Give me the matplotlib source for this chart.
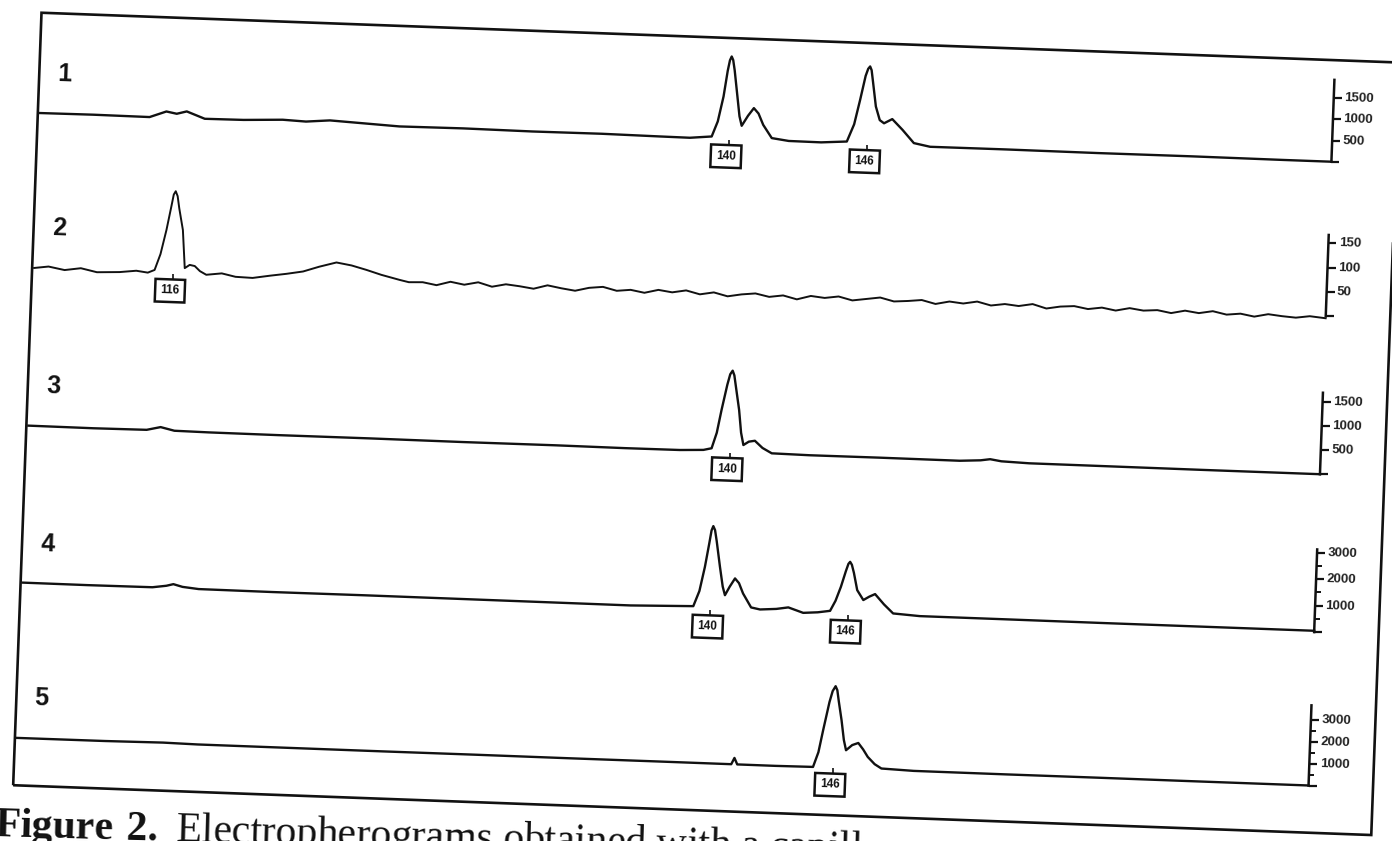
import matplotlib
matplotlib.use("Agg")
import matplotlib.pyplot as plt
from matplotlib.transforms import Affine2D
from matplotlib.patches import Rectangle

plt.rcParams['font.family'] = ['Liberation Sans', 'DejaVu Sans']
plt.rcParams['mathtext.fontset'] = 'custom'
plt.rcParams['mathtext.rm'] = 'Liberation Serif'
plt.rcParams['mathtext.bf'] = 'Liberation Serif:bold'

# traces: x = fragment size (bp), y = signal (RFU)
p1_x = [110.17, 112.5, 114.93, 115.65, 116.1, 116.53, 117.32, 119.0, 120.69, 121.7, 122.73, 125.75, 128.5,
        131.5, 134.5, 137.0, 138.32, 139.26, 139.5, 139.71, 139.85, 139.93, 140.0, 140.07, 140.15, 140.31,
        140.43, 140.54, 140.8, 141.04, 141.25, 141.47, 141.86, 142.6, 144.0, 145.11, 145.4, 145.62, 145.82,
        145.92, 146.0, 146.07, 146.15, 146.31, 146.5, 146.69, 147.04, 147.5, 148.01, 148.72, 152.0, 156.0,
        160.0, 164.0, 166.09]
p1_y = [31, 38, 31, 177, 132, 196, 38, 45, 83, 60, 108, 26, 35, 22, 28, 15, 10, 59, 420, 1012, 1620, 1870,
        1962, 1880, 1640, 1023, 560, 337, 580, 764, 640, 377, 73, 20, 15, 57, 470, 1052, 1620, 1790, 1847,
        1760, 1480, 908, 590, 519, 625, 380, 78, 5, 8, 2, 6, 0, 0]

p2_x = [110.18, 110.8, 111.5, 112.2, 112.9, 113.88, 114.6, 115.1, 115.39, 115.62, 115.84, 116.02, 116.1,
        116.18, 116.27, 116.36, 116.55, 116.69, 116.9, 117.12, 117.35, 117.63, 118.3, 118.9, 119.64, 120.4,
        121.1, 121.81, 122.5, 123.24, 123.9, 124.55, 125.2, 126.0, 126.4,
        127.0, 127.6, 128.2, 128.8, 129.4, 130.0, 130.6, 131.2, 131.8, 132.4, 133.0, 133.6, 134.2, 134.8,
        135.4, 136.0, 136.6, 137.2, 137.8, 138.4, 139.0, 139.6, 140.2, 140.8, 141.4, 142.0, 142.6, 143.2,
        143.8, 144.4, 145.0, 145.6, 146.2, 146.8, 147.4, 148.0, 148.6, 149.2, 149.8, 150.4, 151.0, 151.6,
        152.2, 152.8, 153.4, 154.0, 154.6, 155.2, 155.8, 156.4, 157.0, 157.6, 158.2, 158.8, 159.4, 160.0,
        160.6, 161.2, 161.8, 162.4, 163.0, 163.6, 164.2, 164.8, 165.4, 166.09]
p2_y = [2, 6, 0, 5, -2, 0, 4, 1, 7, 40, 90, 140, 163, 170, 160, 135, 91, 13, 20, 18, 8, 1, 5, -1, -2, 4, 9,
        15, 26, 36, 31, 23, 14, 5, 1,
        2, -3, 5, 0, 6, -2, 4, 1, -3, 5, 0, -4, 3, 6, -1, 2, -3, 4, 0, 5, -2, 3, -4, 1, 4, -2, 2, -5, 3, 0,
        4, -3, 1, 5, -2, 0, 3, -4, 2, -1, 4, -3, 1, -2, 3, -5, 0, 2, -3, 1, -4, 2, -2, 0, -5, 1, -3, 2, -4,
        -1, -6, 0, -3, -5, -1, -4]

p3_x = [110.18, 113.0, 115.3, 115.9, 116.5, 118.0, 121.0, 125.0, 129.0, 133.0, 136.0, 138.38, 139.4, 139.75,
        139.95, 140.12, 140.33, 140.44, 140.54, 140.62, 140.7, 140.88, 141.0, 141.12, 141.35, 141.61, 141.95,
        142.36, 144.0, 147.0, 150.5, 151.4, 151.81, 152.3, 153.5, 157.0, 161.0, 166.09]
p3_y = [25, 20, 28, 95, 30, 22, 18, 20, 15, 18, 12, 15, 35, 75, 400, 874, 1400, 1620, 1696, 1600, 1380, 888,
        420, 166, 240, 263, 120, 16, 5, 8, 5, 30, 60, 25, 5, 3, 0, 0]

p4_x = [110.18, 113.0, 115.8, 116.4, 116.7, 117.1, 117.8, 121.0, 125.0, 129.0, 133.0, 136.5, 139.21, 139.45,
        139.65, 139.8, 139.88, 139.95, 140.03, 140.12, 140.3, 140.45, 140.56, 140.75, 140.97, 141.15, 141.34,
        141.71, 142.1, 142.8, 143.32, 143.97, 144.6, 145.13, 145.35, 145.56, 145.75, 145.85, 145.92, 146.0,
        146.1, 146.27, 146.55, 146.8, 147.05, 147.45, 147.86, 149.02, 153.0, 157.0, 161.0, 166.09]
p4_y = [80, 75, 85, 160, 230, 140, 80, 70, 75, 70, 65, 60, 120, 700, 1619, 2500, 3000, 3166, 3020, 2600, 1641,
        900, 577, 900, 1223, 1050, 668, 151, 87, 130, 204, 19, 60, 132, 520, 1053, 1650, 1930, 2008, 1900,
        1600, 951, 585, 720, 826, 450, 121, 57, 55, 50, 50, 50]

p5_x = [110.18, 114.0, 116.5, 118.0, 122.0, 126.0, 130.0, 134.0, 138.0, 141.1, 141.23, 141.36, 143.0, 144.64,
        144.85, 145.02, 145.25, 145.37, 145.49, 145.57, 145.65, 145.8, 145.93, 146.04, 146.3, 146.56, 146.78,
        146.99, 147.3, 147.6, 149.0, 153.0, 157.0, 161.0, 166.09]
p5_y = [15, 20, 45, 18, 15, 12, 15, 10, 12, 10, 300, 10, 8, 23, 700, 1709, 3000, 3500, 3727, 3550, 3050, 2191,
        1300, 836, 1080, 1186, 900, 568, 250, 64, 10, 5, 8, 5, 5]

# called alleles (peak position, label)
p1_peaks = [(140.0, "140"), (146.0, "146")]
p2_peaks = [(116.18, "116")]
p3_peaks = [(140.54, "140")]
p4_peaks = [(139.95, "140"), (145.92, "146")]
p5_peaks = [(145.49, "146")]

# right-hand scales
p1_ticks, p1_minor, p1_top = [1500, 1000, 500], [], 1932
p2_ticks, p2_minor, p2_top = [150, 100, 50], [], 167
p3_ticks, p3_minor, p3_top = [1500, 1000, 500], [], 1687
p4_ticks, p4_minor, p4_top = [3000, 2000, 1000], [2500, 1500, 500], 3121
p5_ticks, p5_minor, p5_top = [3000, 2000, 1000], [2500, 1500, 500], 3650

caption = r"$\mathbf{Figure\ 2.}$ Electropherograms obtained with a capill"

W, H = 1392, 841
TILT = -2.1
XMIN, XMAX = 110.18, 166.09
INK = '#111111'

fig = plt.figure(figsize=(W / 100, H / 100), dpi=100)
fig.patch.set_facecolor('white')
rot = Affine2D().rotate_deg_around(W / 2, H / 2, TILT)

# (label, x, y, peaks, ticks, minor, ytop, zero line px, top px) - px from top of page
panels = [
    ("1", p1_x, p1_y, p1_peaks, p1_ticks, p1_minor, p1_top, 138.6, 56.7),
    ("2", p2_x, p2_y, p2_peaks, p2_ticks, p2_minor, p2_top, 293.3, 211.9),
    ("3", p3_x, p3_y, p3_peaks, p3_ticks, p3_minor, p3_top, 451.3, 369.8),
    ("4", p4_x, p4_y, p4_peaks, p4_ticks, p4_minor, p4_top, 609.3, 526.6),
    ("5", p5_x, p5_y, p5_peaks, p5_ticks, p5_minor, p5_top, 762.9, 682.6),
]

for num, xs, ys, peaks, ticks, minor, ytop, v0, vtop in panels:
    ax = fig.add_axes([29 / W, 1 - v0 / H, (1321.5 - 29) / W, (v0 - vtop) / H])
    ax.set_xlim(XMIN, XMAX)
    ax.set_ylim(0, ytop)
    ax.set_axis_off()
    T = ax.transData + rot
    lw = 1.4 if num == "2" else 1.7
    ax.plot(xs, ys, color=INK, lw=lw, transform=T, clip_on=False, solid_joinstyle='round')
    # right scale
    ax.plot([XMAX, XMAX], [0, ytop], color=INK, lw=1.8, transform=T, clip_on=False)
    ax.plot([XMAX] * (len(ticks) + 1), [0] + ticks, ls='none', marker=1, ms=6, mew=1.6,
            color=INK, transform=T, clip_on=False)
    if minor:
        ax.plot([XMAX] * len(minor), minor, ls='none', marker=1, ms=3.5, mew=1.4,
                color=INK, transform=T, clip_on=False)
    for t in ticks:
        ax.annotate(str(t), xy=(XMAX, t), xycoords=T, xytext=(7.5, 0), textcoords='offset points',
                    ha='left', va='center', fontsize=9.5, fontweight='bold', color='#222222',
                    rotation=TILT, rotation_mode='anchor')
    # allele call boxes
    for px, lab in peaks:
        ax.plot([px], [0], ls='none', marker=3, ms=4, mew=1.2, color=INK, transform=T, clip_on=False)
        ax.annotate(lab, xy=(px, 0), xycoords=T, xytext=(-2, -12), textcoords='offset points',
                    ha='center', va='center', fontsize=8.5, fontweight='bold', color=INK,
                    rotation=TILT, rotation_mode='anchor',
                    bbox=dict(boxstyle='square,pad=0.45', fc='white', ec=INK, lw=1.8))
    # lane number
    ax.annotate(num, xy=(XMIN, 0), xycoords=T, xytext=(18, 29), textcoords='offset points',
                ha='center', va='center', fontsize=18, fontweight='bold', color=INK,
                rotation=TILT, rotation_mode='anchor')

# page frame and caption
fig.add_artist(Rectangle((27 / W, 1 - 810 / H), (1386 - 27) / W, (810 - 37) / H, fill=False,
                         ec=INK, lw=1.9, transform=fig.transFigure + rot))
fig.text(-6 / W, 1 - 836 / H, caption, fontsize=30, fontfamily='Liberation Serif', color=INK,
         ha='left', va='baseline', rotation=-1.6, rotation_mode='anchor')

fig.savefig("out.png", dpi=100, facecolor='white')
